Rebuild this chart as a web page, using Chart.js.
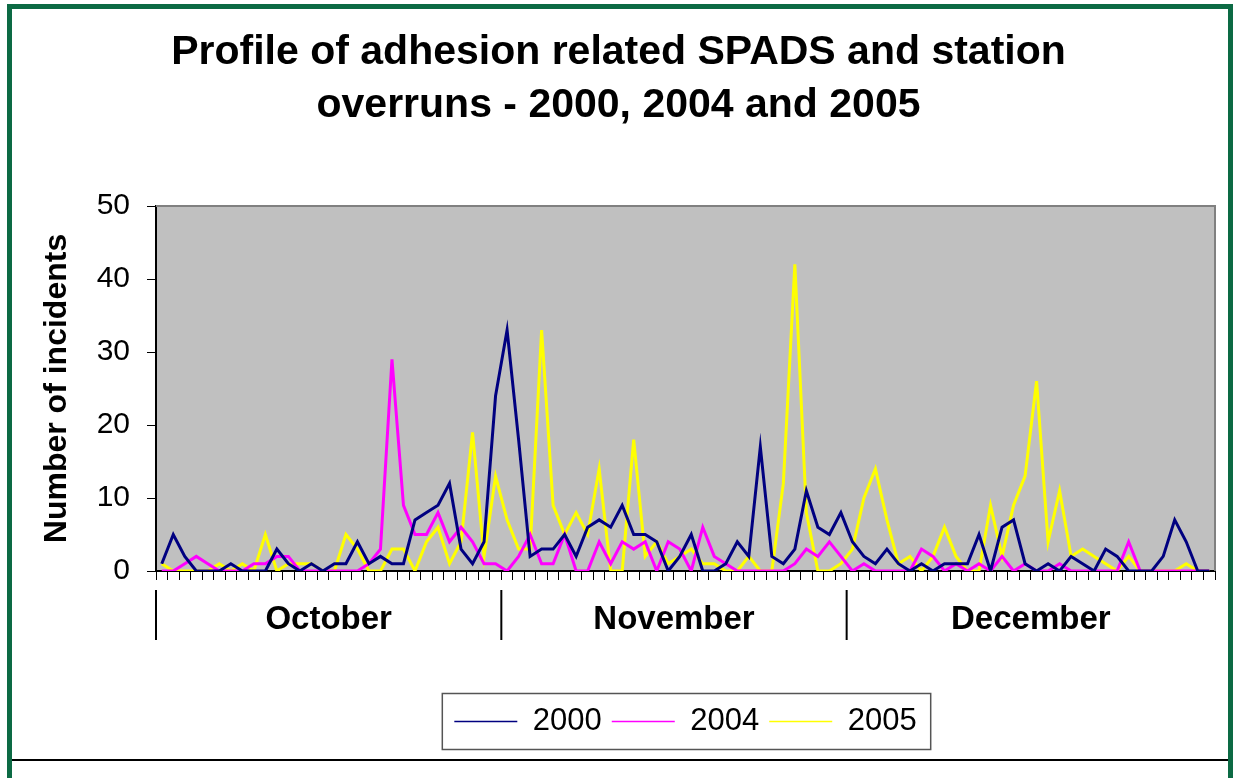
<!DOCTYPE html>
<html>
<head>
<meta charset="utf-8">
<script src="https://cdn.jsdelivr.net/npm/chart.js@4"></script>
<style>
  html, body { margin: 0; padding: 0; background: #fff; overflow: hidden; }
  #frame { position: absolute; left: 7px; top: 4px; width: 1216px; height: 790px;
           border: 5px solid #0c6a44; border-bottom: none; }
  #wrap { position: absolute; left: 12px; top: 10px; width: 1216px; height: 749px; }
  #rule { position: absolute; left: 12px; top: 759px; width: 1216px; height: 0;
          border-top: 2px solid #000; }
</style>
</head>
<body>
<div id="frame"></div>
<div id="wrap"><canvas id="chart" width="1216" height="749"></canvas></div>
<div id="rule"></div>
<script>
  // one category per day, Oct - Dec
  var days = [];
  for (var d = 1; d <= 92; d++) days.push(String(d));

  // month groups as drawn under the axis (first category of each group)
  var months = ['October', 'November', 'December'];
  var monthStarts = [0, 30, 60];

  var y2000 = [1,5,2,0,0,0,1,0,0,0, 3,1,0,1,0,1,1,4,1,2, 1,1,7,8,9,12,3,1,4,24,
               33,18,2,3,3,5,2,6,7,6, 9,5,5,4,0,2,5,0,0,1, 4,2,17,2,1,3,11,6,5,8,
               4,2,1,3,1,0,1,0,1,1, 1,5,0,6,7,1,0,1,0,2, 1,0,3,2,0,0,0,2,7,4, 0,0];
  var y2004 = [0,0,1,2,1,0,0,0,1,1, 2,2,0,0,0,0,0,0,1,3, 29,9,5,5,8,4,6,4,1,1,
               0,2,5,1,1,5,0,0,4,1, 4,3,4,0,4,3,0,6,2,1, 0,0,0,0,0,1,3,2,4,2,
               0,1,0,0,0,0,3,2,0,1, 0,1,0,2,0,1,0,0,1,0, 0,0,0,0,4,0,0,0,0,0, 0,0];
  var y2005 = [1,0,0,0,0,1,0,1,0,5, 0,1,1,1,0,0,5,3,0,0, 3,3,0,4,6,1,4,19,2,13,
               7,3,3,33,9,5,8,5,14,0, 0,18,2,4,1,2,3,1,1,0, 0,2,0,0,12,42,8,0,0,1,
               3,10,14,7,1,2,0,2,6,2, 0,0,9,2,9,13,26,4,11,2, 3,2,1,0,2,0,0,0,0,1, 0,0];

  Chart.defaults.font.family = "'Liberation Sans', Arial, sans-serif";
  Chart.defaults.color = '#000';

  // grey plot area with the darker frame on top and right
  var plotBg = {
    id: 'plotBg',
    beforeDraw: function(chart) {
      var a = chart.chartArea, ctx = chart.ctx;
      ctx.save();
      ctx.fillStyle = '#c0c0c0';
      ctx.fillRect(a.left, a.top, a.right - a.left, a.bottom - a.top);
      ctx.restore();
    },
    beforeDatasetsDraw: function(chart) {
      var a = chart.chartArea, ctx = chart.ctx;
      ctx.save();
      ctx.strokeStyle = '#808080';
      ctx.lineWidth = 2;
      ctx.beginPath();
      ctx.moveTo(a.left, a.top);
      ctx.lineTo(a.right, a.top);
      ctx.lineTo(a.right, a.bottom);
      ctx.stroke();
      ctx.restore();
    }
  };

  // month separators and names below the day ticks
  var monthBand = {
    id: 'monthBand',
    afterDraw: function(chart) {
      var x = chart.scales.x, ctx = chart.ctx;
      var half = (x.getPixelForValue(1) - x.getPixelForValue(0)) / 2;
      var edge = function(i) { return x.getPixelForValue(i) - half; };
      ctx.save();
      ctx.strokeStyle = '#000';
      ctx.lineWidth = 2;
      monthStarts.forEach(function(s) {
        var px = edge(s);
        ctx.beginPath();
        ctx.moveTo(px, x.top + 19);
        ctx.lineTo(px, x.top + 69);
        ctx.stroke();
      });
      ctx.fillStyle = '#000';
      ctx.font = "bold 33px 'Liberation Sans', Arial, sans-serif";
      ctx.textAlign = 'center';
      ctx.textBaseline = 'middle';
      months.forEach(function(m, i) {
        var end = i + 1 < monthStarts.length ? monthStarts[i + 1] : days.length;
        ctx.fillText(m, (edge(monthStarts[i]) + edge(end)) / 2, x.top + 49);
      });
      ctx.restore();
    }
  };

  // legend centred under the plot, with a box round it
  var legendBox = {
    id: 'legendBox',
    afterLayout: function(chart) {
      var lg = chart.legend, a = chart.chartArea;
      var shift = (a.left + a.right) / 2 - (lg.left + lg.right) / 2;
      lg.left += shift;
      lg.right += shift;
    },
    afterDraw: function(chart) {
      var hb = chart.legend.legendHitBoxes, ctx = chart.ctx;
      if (!hb || !hb.length) return;
      var last = hb[hb.length - 1];
      var l = hb[0].left - 12, r = last.left + last.width + 14;
      var cy = hb[0].top + hb[0].height / 2;
      ctx.save();
      ctx.strokeStyle = '#555';
      ctx.lineWidth = 1.5;
      ctx.strokeRect(l, cy - 28, r - l, 56);
      ctx.restore();
    }
  };

  var config = {
    type: 'line',
    data: {
      labels: days,
      datasets: [
        { label: '2000', data: y2000, borderColor: '#000080', backgroundColor: '#000080' },
        { label: '2004', data: y2004, borderColor: '#ff00ff', backgroundColor: '#ff00ff' },
        { label: '2005', data: y2005, borderColor: '#ffff00', backgroundColor: '#ffff00' }
      ]
    },
    options: {
      responsive: false,
      animation: false,
      layout: { padding: { left: 10, right: 13, top: 0, bottom: 12 } },
      elements: {
        line: { borderWidth: 3, tension: 0 },
        point: { radius: 0, hoverRadius: 0 }
      },
      plugins: {
        title: {
          display: true,
          text: ['Profile of adhesion related SPADS and station', 'overruns - 2000, 2004 and 2005'],
          color: '#000',
          font: { size: 41, weight: 'bold', lineHeight: 1.3 },
          padding: { top: 16, bottom: 73.4 }
        },
        legend: {
          position: 'bottom',
          labels: {
            usePointStyle: true,
            pointStyle: 'line',
            pointStyleWidth: 63,
            padding: 10,
            color: '#000',
            font: { size: 31 },
            generateLabels: function(chart) {
              return Chart.defaults.plugins.legend.labels.generateLabels(chart).map(function(item) {
                item.lineWidth = 1.5;
                return item;
              });
            }
          }
        },
        tooltip: { enabled: false }
      },
      scales: {
        x: {
          offset: true,
          grid: { offset: true, drawOnChartArea: false, tickLength: 9, color: '#000', lineWidth: 1 },
          border: { color: '#000', width: 2 },
          ticks: { display: false },
          afterFit: function(s) { s.height = 125; }
        },
        y: {
          min: 0,
          max: 50,
          ticks: { stepSize: 10, padding: 17, font: { size: 30 }, color: '#000' },
          grid: { drawOnChartArea: false, tickLength: 9, color: '#000', lineWidth: 1 },
          border: { color: '#000', width: 2 },
          title: {
            display: true,
            text: 'Number of incidents',
            color: '#000',
            font: { size: 32, weight: 'bold' },
            padding: { top: 16, bottom: 0 }
          },
          afterFit: function(s) { s.width = 134; }
        }
      }
    },
    plugins: [plotBg, monthBand, legendBox]
  };

  var spadsChart = new Chart(document.getElementById('chart'), config);
</script>
</body>
</html>
